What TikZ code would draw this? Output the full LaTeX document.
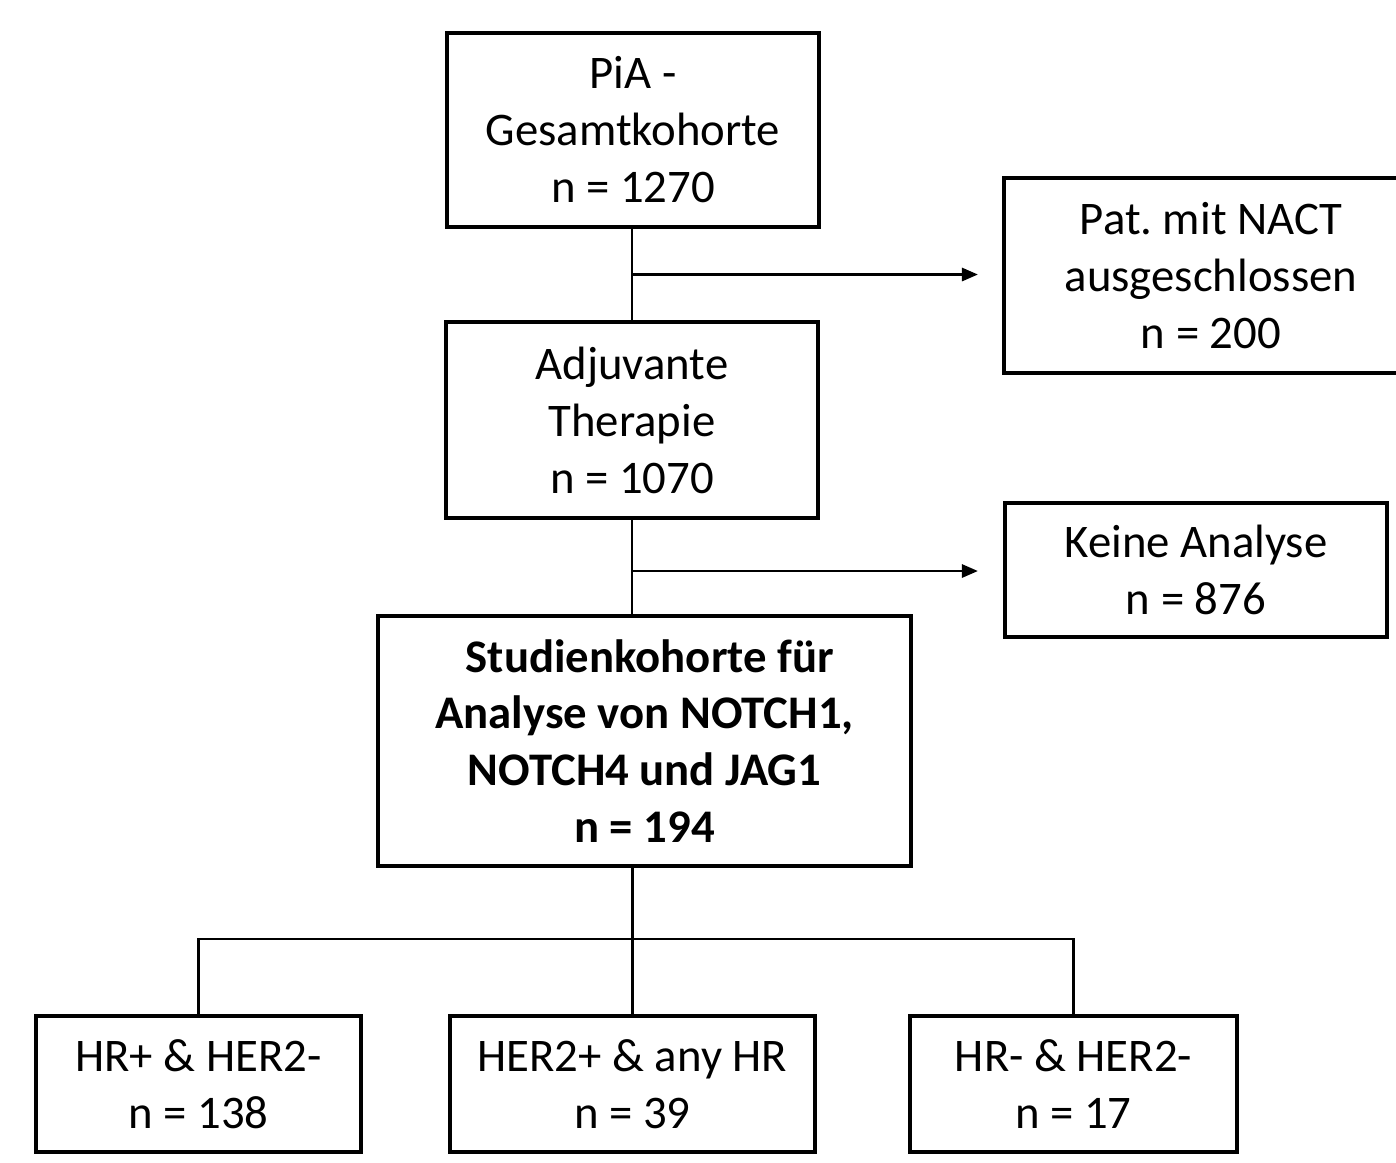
\documentclass[tikz,border=0pt]{standalone}
\usepackage{fontspec}
\setmainfont{Carlito}
\frenchspacing
\usetikzlibrary{positioning,arrows.meta,calc}
\tikzset{
  box/.style={draw, line width=1.15pt, align=center, inner sep=0pt,
    font=\fontsize{13.3}{16.2}\selectfont},
  link/.style={line width=0.8pt},
  pfeil/.style={link, -{Triangle[length=0.16cm,width=0.13cm]}}
}

\begin{document}
\begin{tikzpicture}
			\clip (0,0) rectangle (13.96,-11.62);
%			Hauptkette
			\node[box, minimum width=3.72cm, minimum height=1.94cm] (gesamt) at (6.33,-1.30) {PiA -\\Gesamtkohorte\\n = 1270};
			\node[box, minimum width=3.72cm, minimum height=1.96cm] (adjuvant) at (6.32,-4.20) {Adjuvante\\Therapie\\n = 1070};
			\node[box, minimum width=5.33cm, minimum height=2.50cm] (studie) at (6.445,-7.41) {\textbf{\ Studienkohorte für}\\\textbf{Analyse von NOTCH1,}\\\textbf{NOTCH4 und JAG1}\\\textbf{n = 194}};
%			Ausschluesse
			\node[box, minimum width=4.14cm, minimum height=1.95cm] (nact) at (12.11,-2.755) {Pat. mit NACT\\ausgeschlossen\\n = 200};
			\node[box, minimum width=3.82cm, minimum height=1.34cm] (keine) at (11.96,-5.70) {Keine Analyse\\n = 876};
%			Subgruppen
			\node[box, minimum width=3.25cm, minimum height=1.36cm] (hrpos) at (1.985,-10.84) {HR+ \& HER2-\\n = 138};
			\node[box, minimum width=3.65cm, minimum height=1.36cm] (herpos) at (6.325,-10.84) {HER2+ \& any HR\\n = 39};
			\node[box, minimum width=3.27cm, minimum height=1.36cm] (triple) at (10.735,-10.84) {HR- \& HER2-\\n = 17};

			\coordinate (ab1) at ($(gesamt.south)!0.5!(adjuvant.north)$);
			\coordinate (ab2) at (6.32,-5.71);
			\coordinate (gabel) at (6.32,-9.39);

			\begin{scope}[link]
			\draw (gesamt.south -| adjuvant.north) -- (adjuvant.north);
			\draw (adjuvant.south) -- (adjuvant.south |- studie.north);
			\draw (herpos.north |- studie.south) -- (herpos.north);
			\draw (hrpos.north) |- (gabel) -| (triple.north);
			\end{scope}

			\draw[pfeil, shorten >=0.24cm] (ab1 -| adjuvant.north) -- (ab1 -| nact.west);
			\draw[pfeil, shorten >=0.25cm] (ab2) -- (ab2 -| keine.west);
\end{tikzpicture}
\end{document}
